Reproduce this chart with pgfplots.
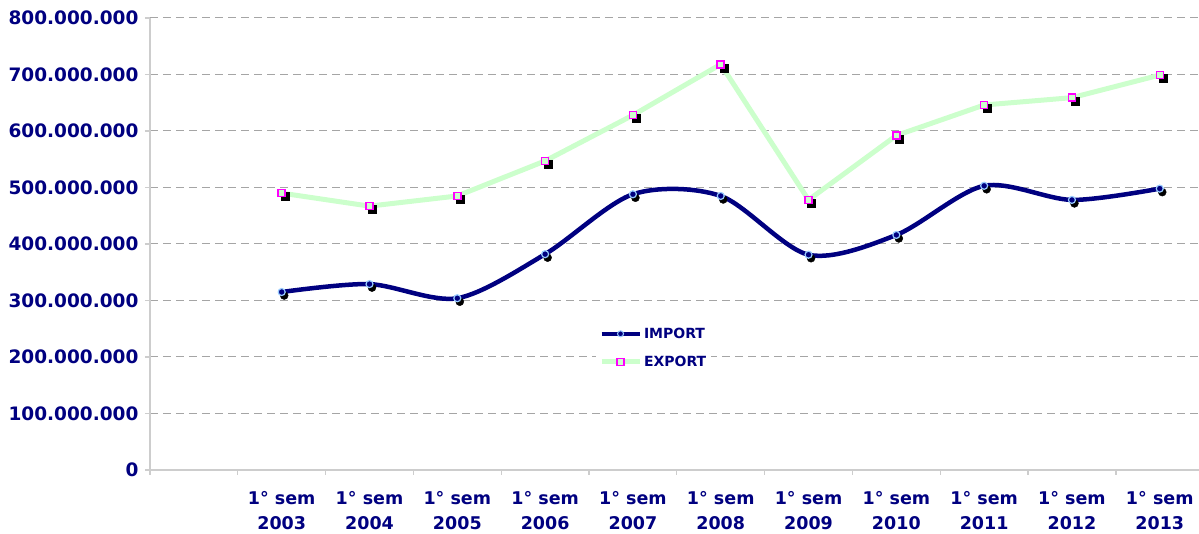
\documentclass[border=0pt]{standalone}
\usepackage{pgfplots}
\pgfplotsset{compat=1.18}
\usepackage{fontspec}
\setmainfont{DejaVu Sans}
\usetikzlibrary{calc}
\definecolor{navyc}{RGB}{0,0,128}
\definecolor{expg}{RGB}{204,255,204}
\definecolor{magc}{RGB}{255,0,255}
\definecolor{outc}{RGB}{153,204,255}
\definecolor{gridc}{RGB}{165,165,165}
\definecolor{axc}{RGB}{205,205,205}
\begin{document}
\begin{tikzpicture}
\begin{axis}[
  name=ax, scale only axis, width=1049pt, height=452pt,
  xmin=-0.5, xmax=11.447, ymin=0, ymax=800000000,
  axis x line*=bottom, axis y line*=left,
  axis line style={-, draw=axc, line width=1.3pt},
  scaled y ticks=false,
  ytick={0,100000000,200000000,300000000,400000000,500000000,600000000,700000000,800000000},
  yticklabels={0,100.000.000,200.000.000,300.000.000,400.000.000,500.000.000,600.000.000,700.000.000,800.000.000},
  ymajorgrids,
  grid style={draw=gridc, dash pattern=on 8pt off 5pt, line width=1pt},
  xtick={-0.5,0.5,1.5,2.5,3.5,4.5,5.5,6.5,7.5,8.5,9.5,10.5},
  xticklabels={},
  extra x ticks={1,2,3,4,5,6,7,8,9,10,11},
  extra x tick labels={{1° sem\\2003},{1° sem\\2004},{1° sem\\2005},{1° sem\\2006},{1° sem\\2007},{1° sem\\2008},{1° sem\\2009},{1° sem\\2010},{1° sem\\2011},{1° sem\\2012},{1° sem\\2013}},
  extra x tick style={major tick length=0pt, grid=none},
  tick style={draw=axc, line width=1.3pt},
  major tick length=5pt, tick align=outside,
  ticklabel style={font=\fontsize{17.5}{25}\selectfont\bfseries, text=navyc},
  yticklabel style={font=\fontsize{18.5}{22}\selectfont\bfseries, xshift=-3pt},
  xticklabel style={align=center, yshift=-18pt},
  clip=false,
  legend style={at={(0.425,0.326)}, anchor=north west, draw=none, fill=white,
    font=\fontsize{14}{16}\selectfont\bfseries, text=navyc, row sep=12pt, inner sep=3pt},
  legend cell align=left,
  legend image code/.code={\draw[mark repeat=2,mark phase=2,#1] plot coordinates {(0pt,0pt) (19pt,0pt) (38pt,0pt)};},
]
% lines
\addplot[expg, line width=5pt, forget plot] coordinates {
 (1,490000000) (2,467000000) (3,485000000) (4,547000000) (5,628000000) (6,718000000)
 (7,478000000) (8,592000000) (9,646000000) (10,659000000) (11,699000000)};
\addplot[navyc, line width=4.5pt, smooth, forget plot] coordinates {
 (1,315000000) (2,329000000) (3,304000000) (4,382000000) (5,488000000) (6,485000000)
 (7,381000000) (8,416000000) (9,503000000) (10,478000000) (11,498000000)};
% shadows
\addplot[only marks, mark=*, mark size=4pt, mark options={fill=black, draw=none, xshift=2.5pt, yshift=-3.5pt}, forget plot] coordinates {
 (1,315000000) (2,329000000) (3,304000000) (4,382000000) (5,488000000) (6,485000000)
 (7,381000000) (8,416000000) (9,503000000) (10,478000000) (11,498000000)};
\addplot[only marks, mark=square*, mark size=4pt, mark options={fill=black, draw=none, xshift=3pt, yshift=-3.5pt}, forget plot] coordinates {
 (1,490000000) (2,467000000) (3,485000000) (4,547000000) (5,628000000) (6,718000000)
 (7,478000000) (8,592000000) (9,646000000) (10,659000000) (11,699000000)};
% marks
\addplot[only marks, mark=*, mark size=3.5pt, mark options={fill=navyc, draw=outc, line width=1.2pt}, forget plot] coordinates {
 (1,315000000) (2,329000000) (3,304000000) (4,382000000) (5,488000000) (6,485000000)
 (7,381000000) (8,416000000) (9,503000000) (10,478000000) (11,498000000)};
\addplot[only marks, mark=square*, mark size=3.5pt, mark options={fill=expg, draw=magc, line width=1.5pt}, forget plot] coordinates {
 (1,490000000) (2,467000000) (3,485000000) (4,547000000) (5,628000000) (6,718000000)
 (7,478000000) (8,592000000) (9,646000000) (10,659000000) (11,699000000)};
\addlegendimage{navyc, line width=4pt, mark=*, mark size=3pt, mark options={fill=navyc, draw=outc, line width=1pt}}
\addlegendentry{IMPORT}
\addlegendimage{expg, line width=5pt, mark=square*, mark size=3.5pt, mark options={fill=expg, draw=magc, line width=1.3pt}}
\addlegendentry{EXPORT}
\end{axis}
\pgfresetboundingbox
\path[use as bounding box] ($(ax.south west)+(-150pt,-64pt)$) rectangle ($(ax.north east)+(0pt,18pt)$);
\end{tikzpicture}
\end{document}
